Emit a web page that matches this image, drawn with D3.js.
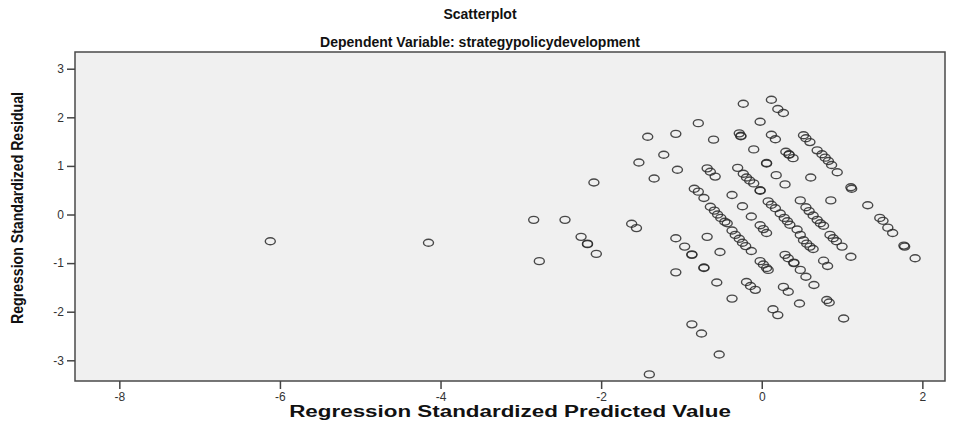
<!DOCTYPE html>
<html><head><meta charset="utf-8">
<script src="https://cdn.jsdelivr.net/npm/d3@7"></script>
<style>
html,body{margin:0;padding:0;background:#fff;}
svg{display:block;}
text{font-family:Arial,"Liberation Sans",sans-serif;}
</style></head>
<body><div id="chart"></div>
<script>
const title = "Scatterplot";
const subtitle = "Dependent Variable: strategypolicydevelopment";
const xTitle = "Regression Standardized Predicted Value";
const yTitle = "Regression Standardized Residual";
const xTicks = [-8, -6, -4, -2, 0, 2];
const yTicks = [-3, -2, -1, 0, 1, 2, 3];

const predicted = [
-6.12,-4.15,-2.84,-2.45,-2.77,-2.25,-2.17,-2.06,-2.09,-1.62,
-1.56,-1.53,-1.42,-1.34,-1.22,-1.07,-1.05,-0.79,-0.60,-0.23,
0.12,0.20,0.27,-0.02,-0.28,-0.26,0.12,0.17,-0.10,0.06,
0.18,-0.68,-0.64,-0.58,-0.30,-0.23,-0.19,-0.15,-0.10,-0.02,
-0.84,-0.79,-0.72,-0.37,-0.24,-0.13,0.08,0.12,0.17,0.23,
0.28,0.32,0.35,-0.64,-0.59,-0.55,-0.51,-0.46,-0.43,-0.02,
0.02,0.06,-0.37,-0.33,-0.28,-0.24,-0.20,-0.13,-0.68,-1.07,
-0.96,-0.87,-0.52,-1.07,-0.72,-0.56,-0.37,-0.19,-0.14,-0.08,
-0.02,0.02,0.06,0.08,0.14,0.20,-0.87,-0.75,-0.53,-1.40,
0.30,0.34,0.39,0.52,0.55,0.60,0.69,0.75,0.79,0.83,
0.87,0.94,0.61,0.29,1.11,1.12,0.48,0.55,0.59,0.64,
0.69,0.73,0.77,0.86,1.32,1.47,1.51,1.57,1.63,1.77,
1.78,1.91,0.44,0.48,0.52,0.56,0.60,0.64,0.85,0.89,
0.93,1.00,1.11,0.29,0.33,0.40,0.77,0.82,0.48,0.55,
0.65,0.27,0.33,0.47,0.81,0.84,1.02,
-0.26,0.06,0.34,-0.87,-0.72,-0.02,-2.17,0.40
];
const residual = [
-0.55,-0.58,-0.11,-0.11,-0.96,-0.46,-0.60,-0.81,0.66,-0.19,
-0.28,1.07,1.60,0.74,1.23,1.66,0.92,1.88,1.54,2.28,
2.36,2.17,2.09,1.91,1.67,1.61,1.64,1.55,1.34,1.05,
0.81,0.95,0.88,0.78,0.96,0.84,0.76,0.70,0.64,0.49,
0.53,0.47,0.34,0.40,0.17,-0.04,0.27,0.20,0.13,0.02,
-0.07,-0.14,-0.21,0.16,0.08,0.00,-0.07,-0.15,-0.18,-0.22,
-0.30,-0.38,-0.33,-0.42,-0.50,-0.58,-0.65,-0.75,-0.46,-0.49,
-0.66,-0.83,-0.77,-1.19,-1.09,-1.40,-1.73,-1.39,-1.47,-1.55,
-0.96,-1.03,-1.10,-1.14,-1.95,-2.07,-2.26,-2.45,-2.88,-3.29,
1.29,1.23,1.16,1.63,1.57,1.49,1.32,1.24,1.17,1.10,
1.02,0.87,0.76,0.62,0.56,0.53,0.29,0.15,0.07,-0.02,
-0.11,-0.18,-0.23,0.29,0.19,-0.07,-0.13,-0.27,-0.38,-0.64,
-0.66,-0.90,-0.31,-0.42,-0.53,-0.60,-0.66,-0.71,-0.42,-0.49,
-0.55,-0.66,-0.87,-0.83,-0.90,-0.99,-0.95,-1.06,-1.14,-1.28,
-1.45,-1.49,-1.59,-1.83,-1.76,-1.81,-2.14,
1.62,1.06,1.24,-0.82,-1.10,0.50,-0.61,-1.00
];

const W = 959, H = 423;
const frame = {left: 75, right: 945, top: 52, bottom: 381};

const svg = d3.select("#chart").append("svg").attr("width", W).attr("height", H);

const x = d3.scaleLinear().domain([-8.552, 2.282]).range([frame.left, frame.right]);
const y = d3.scaleLinear().domain([-3.426, 3.344]).range([frame.bottom, frame.top]);

svg.append("rect")
  .attr("x", frame.left).attr("y", frame.top)
  .attr("width", frame.right - frame.left).attr("height", frame.bottom - frame.top)
  .attr("fill", "#f0f0f0").attr("stroke", "#4a4a4a").attr("stroke-width", 1.5);

const xAxis = svg.append("g").attr("transform", `translate(0,${frame.bottom})`)
  .call(d3.axisBottom(x).tickValues(xTicks).tickSize(8).tickPadding(3).tickFormat(d3.format("d")));
const yAxis = svg.append("g").attr("transform", `translate(${frame.left},0)`)
  .call(d3.axisLeft(y).tickValues(yTicks).tickSize(8).tickPadding(3).tickFormat(d3.format("d")));
[xAxis, yAxis].forEach(g => {
  g.select(".domain").remove();
  g.selectAll(".tick line").attr("stroke", "#444").attr("stroke-width", 1.5);
  g.selectAll(".tick text").attr("fill", "#333").style("font-size", "12px")
    .style("font-family", "Arial, 'Liberation Sans', sans-serif")
    .text(d => d < 0 ? "-" + Math.abs(d) : String(d));
});

svg.append("g").selectAll("ellipse")
  .data(predicted.map((p, i) => [p, residual[i]]))
  .join("ellipse")
  .attr("cx", d => x(d[0])).attr("cy", d => y(d[1]))
  .attr("rx", 5).attr("ry", 3.5)
  .attr("fill", "none").attr("stroke", "#2a2a2a").attr("stroke-opacity", 0.85).attr("stroke-width", 1.4);

svg.append("text").attr("x", 480).attr("y", 19).attr("text-anchor", "middle")
  .style("font-weight", "bold").style("font-size", "14px").attr("fill", "#111").text(title);
svg.append("text").attr("x", 480).attr("y", 47).attr("text-anchor", "middle")
  .style("font-weight", "bold").style("font-size", "14px").attr("fill", "#111").text(subtitle);
svg.append("text").attr("transform", "translate(510,417) scale(1.4,1)").attr("text-anchor", "middle")
  .style("font-weight", "bold").style("font-size", "16px").attr("fill", "#111").text(xTitle);
svg.append("text").attr("transform", "translate(23,208) rotate(-90) scale(0.83,1)").attr("text-anchor", "middle")
  .style("font-weight", "bold").style("font-size", "17px").attr("fill", "#111").text(yTitle);
</script></body></html>
